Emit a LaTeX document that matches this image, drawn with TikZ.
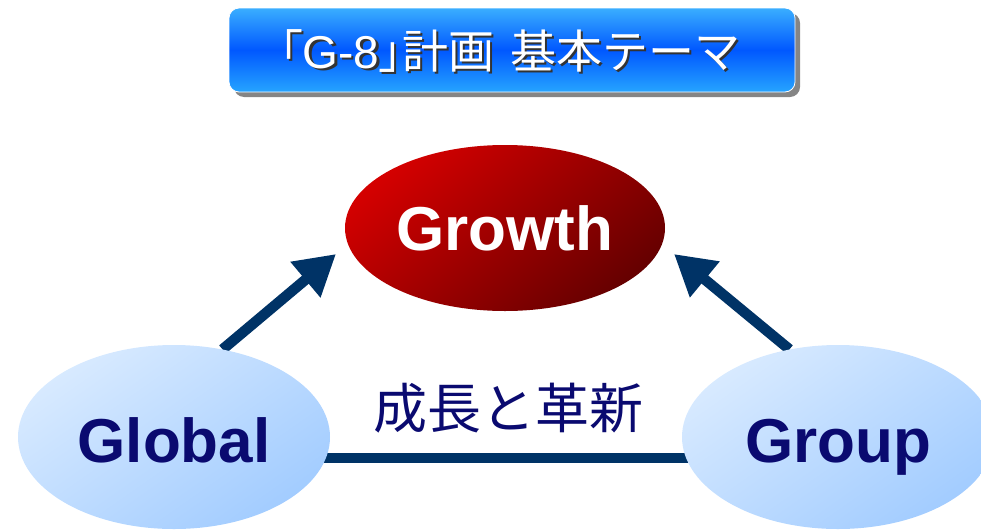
\documentclass[tikz,border=0pt]{standalone}
\usepackage{fontspec}
\setmainfont{Liberation Sans}
\newfontfamily\cjk{Noto Sans CJK JP}
\newfontfamily\cjkp[RawFeature=+palt]{Noto Sans CJK JP}
\usetikzlibrary{arrows.meta,shapes.geometric,backgrounds,shadows}
\definecolor{navy}{HTML}{0A0A70}
\definecolor{linec}{HTML}{003366}
\definecolor{redA}{HTML}{D40000}
\definecolor{redB}{HTML}{660000}
\definecolor{blueA}{HTML}{D8EAFF}
\definecolor{blueB}{HTML}{A2CCFF}
\definecolor{tbTop}{HTML}{3AAEFF}
\definecolor{tbMid}{HTML}{0058FF}
\definecolor{tbBot}{HTML}{26A4FF}
\tikzset{
  titlebox/.style={rectangle, rounded corners=10pt, minimum width=566pt, minimum height=84pt,
    top color=tbTop, bottom color=tbBot, middle color=tbMid, draw=white, line width=0.8pt,
    drop shadow={shadow xshift=5pt, shadow yshift=-5pt, fill=black!48, opacity=1}},
  titletext/.style={font=\fontsize{46}{46}\selectfont, inner sep=0pt},
  growthnode/.style={ellipse, inner sep=0pt, minimum width=320pt, minimum height=166pt,
    top color=redA, bottom color=redB, shading angle=40, text=white,
    font=\bfseries\fontsize{62}{62}\selectfont},
  gnode/.style={ellipse, inner sep=0pt, minimum width=312pt, minimum height=184pt,
    top color=blueA, bottom color=blueB, shading angle=35, text=navy,
    text height=56pt, text depth=5.6pt,
    font=\bfseries\fontsize{62}{62}\selectfont},
  conn/.style={draw=linec, line width=10.5pt},
  uparrow/.style={conn, -{Triangle[length=40pt,width=44pt]}},
  midlabel/.style={text=navy, font=\cjk\fontsize{54}{54}\selectfont, inner sep=0pt}
}
\newcommand{\titlestr}{{\cjkp 「}G-8{\cjkp 」}{\cjk 計画\hspace{0.35em}基本テーマ}}
\begin{document}
\begin{tikzpicture}[x=1pt,y=-1pt]
\useasboundingbox (0,0) rectangle (981,530);
\node[titlebox] (title) at (512,50) {};
\node[titletext, text=black!80] (titleshadow) at (512.5,53.5) {\titlestr};
\node[titletext, text=white] (titletxt) at (510,51) {\titlestr};

\node[growthnode] (growth) at (505,228) {Growth};
\node[gnode] (global) at (174,437) {Global};
\node[gnode] (group) at (838,437) {Group};
\node[midlabel] (theme) at (508,408) {成長と革新};

\coordinate (tipL) at (336,254);
\coordinate (tipR) at (674,254);
\begin{pgfonlayer}{background}
\draw[uparrow] (global.61) -- (tipL);
\draw[uparrow] (group.119) -- (tipR);
\draw[conn] ([yshift=-21pt]global.center) -- ([yshift=-21pt]group.center);
\end{pgfonlayer}
\end{tikzpicture}
\end{document}
